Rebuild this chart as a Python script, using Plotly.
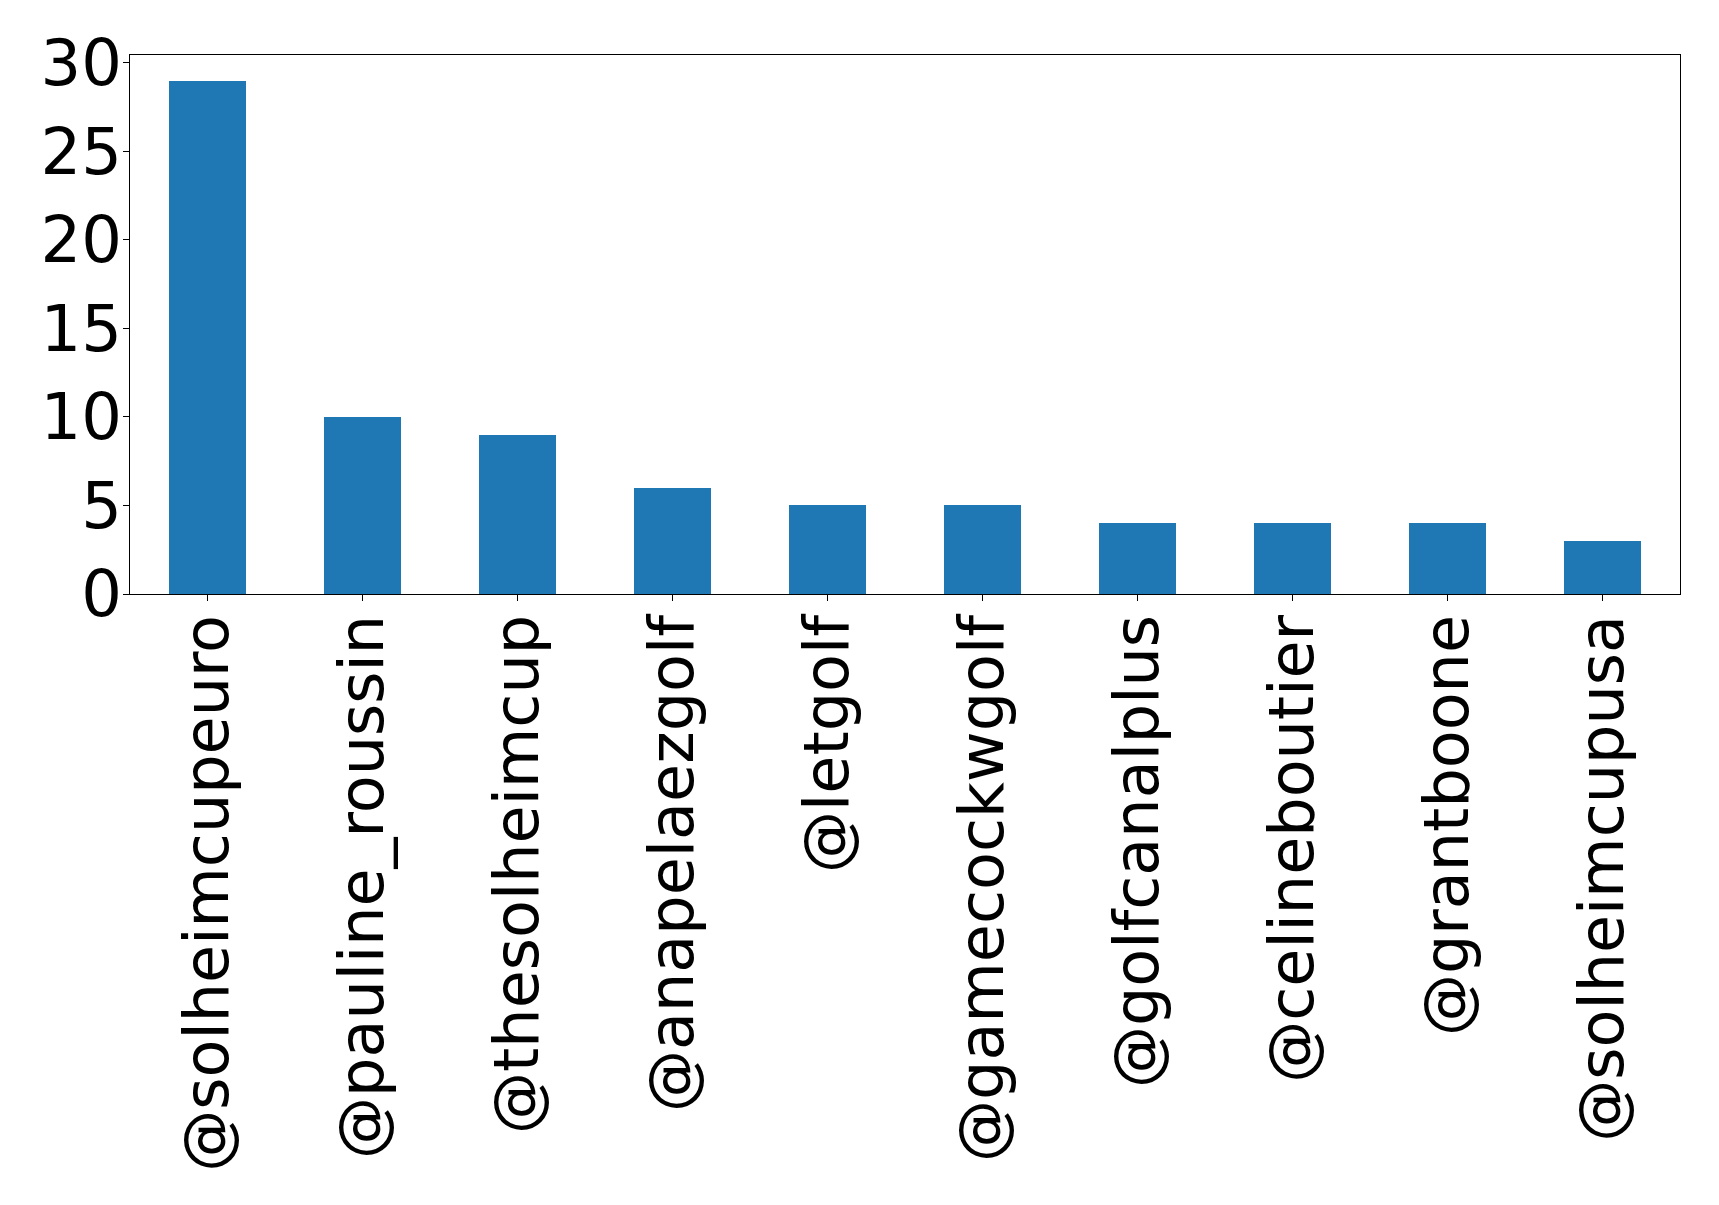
import plotly.graph_objects as go

# mention counts per account
accounts = ["@solheimcupeuro", "@pauline_roussin", "@thesolheimcup", "@anapelaezgolf",
            "@letgolf", "@gamecockwgolf", "@golfcanalplus", "@celineboutier",
            "@grantboone", "@solheimcupusa"]
counts = [29, 10, 9, 6, 5, 5, 4, 4, 4, 3]

fig = go.Figure()
fig.add_trace(go.Bar(
    x=list(range(len(accounts))), y=counts,
    width=0.5,
    marker=dict(color="#1f77b4", line=dict(width=0)),
))

axis_style = dict(
    showline=True, linecolor="black", linewidth=1.3, mirror=True,
    ticks="outside", ticklen=6, tickwidth=1.3, tickcolor="black",
    showgrid=False, zeroline=False,
)

fig.update_xaxes(
    tickmode="array", tickvals=list(range(len(accounts))), ticktext=accounts,
    tickangle=-90, range=[-0.5, 9.5], ticklabelstandoff=-11,
    tickfont=dict(family="DejaVu Sans", size=62, color="black"), **axis_style,
)
fig.update_yaxes(
    range=[0, 30.45], tickvals=[0, 5, 10, 15, 20, 25, 30],
    ticklabelstandoff=-12,
    tickfont=dict(family="DejaVu Sans", size=64, color="black"), **axis_style,
)

# page body adds an 8px offset, margins compensate
fig.update_layout(
    width=1719, height=1205,
    margin=dict(l=122, r=47, t=47, b=619),
    plot_bgcolor="white", paper_bgcolor="white",
    showlegend=False, bargap=0,
)

fig.write_html("out.html")
